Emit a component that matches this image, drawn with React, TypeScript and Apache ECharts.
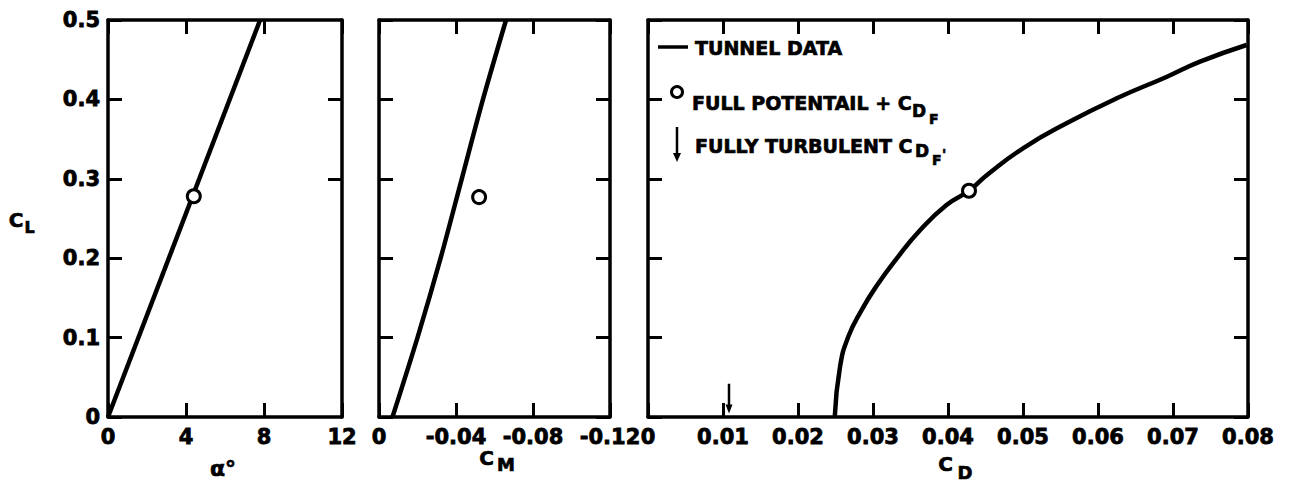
import React, { useEffect, useRef } from "react";
import * as echarts from "echarts";

// Panel 1: C_L vs alpha
const alphaDeg = [0, 7.8];
const clAlpha = [0, 0.5];
const potAlpha = [4.4];
const potClAlpha = [0.278];

// Panel 2: C_L vs C_M
const clLevels = [0, 0.1, 0.2, 0.3, 0.4, 0.5];
const cmTunnel = [-0.007, -0.02, -0.032, -0.043, -0.054, -0.066];
const potCm = [-0.052];
const potClCm = [0.277];

// Panel 3: C_L vs C_D
const cdTunnel = [0.0249, 0.0256, 0.0267, 0.0285, 0.0304, 0.0332, 0.0363, 0.0398, 0.0428, 0.0452, 0.05, 0.0558, 0.0625, 0.0692, 0.0736, 0.0798];
const clDrag = [0, 0.063, 0.101, 0.135, 0.164, 0.2, 0.2355, 0.267, 0.285, 0.3048, 0.3384, 0.3699, 0.4014, 0.4286, 0.4475, 0.4685];
const potCd = [0.0428];
const potClCd = [0.285];
const turbCd = [0.0108, 0.0108];
const turbCl = [0.042, 0.01];

const FONT = "'DejaVu Sans', sans-serif";
const zip = (a: number[], b: number[]) => a.map((v, i) => [v, b[i]]);

function axisBase(extra: any) {
  return {
    type: "value",
    axisLine: { show: true, onZero: false, lineStyle: { color: "#000", width: 3.5 } },
    axisTick: { show: true, inside: true, length: 14, lineStyle: { color: "#000", width: 3 } },
    splitLine: { show: false },
    axisLabel: { show: false },
    ...extra,
  };
}

const labelStyle = (fmt: (v: number) => string, margin: number) => ({
  show: true,
  color: "#000",
  fontFamily: FONT,
  fontWeight: "bold",
  fontSize: 21,
  textBorderColor: "#000",
  textBorderWidth: 0.8,
  margin,
  showMinLabel: true,
  showMaxLabel: true,
  formatter: fmt,
});

const txt = (text: string, x: number, y: number, size: number, align = "center") => ({
  type: "text",
  x,
  y,
  style: {
    text,
    fill: "#000",
    stroke: "#000",
    lineWidth: 0.7,
    fontFamily: FONT,
    fontWeight: "bold",
    fontSize: size,
    align,
    verticalAlign: "middle",
  },
});

export default function App() {
  const ref = useRef<HTMLDivElement>(null);
  useEffect(() => {
    if (!ref.current) return;
    const chart = echarts.init(ref.current, null, { renderer: "svg" });
    const grids = [
      { left: 108, top: 20, width: 234, height: 397 },
      { left: 379, top: 20, width: 231, height: 397 },
      { left: 648, top: 20, width: 600, height: 397 },
    ];
    const fmt1 = (v: number) => (v === 0 ? "0" : String(Math.round(v)));
    const fmt2 = (v: number) => (v === 0 ? "0" : v.toFixed(2));
    const fmtY = (v: number) => (v === 0 ? "0" : v.toFixed(1));
    const xAxes = [
      axisBase({ gridIndex: 0, position: "bottom", min: 0, max: 12, interval: 4, axisLabel: labelStyle(fmt1, 9) }),
      axisBase({ gridIndex: 0, position: "top", min: 0, max: 12, interval: 4 }),
      axisBase({ gridIndex: 1, position: "bottom", min: -0.12, max: 0, interval: 0.04, inverse: true, axisLabel: labelStyle(fmt2, 9) }),
      axisBase({ gridIndex: 1, position: "top", min: -0.12, max: 0, interval: 0.04, inverse: true }),
      axisBase({ gridIndex: 2, position: "bottom", min: 0, max: 0.08, interval: 0.01, axisLabel: labelStyle(fmt2, 9) }),
      axisBase({ gridIndex: 2, position: "top", min: 0, max: 0.08, interval: 0.01 }),
    ];
    const yAxes = [
      axisBase({ gridIndex: 0, position: "left", min: 0, max: 0.5, interval: 0.1, axisLabel: labelStyle(fmtY, 8) }),
      axisBase({
        gridIndex: 0, position: "right", min: 0, max: 0.5, interval: 0.1,
        axisTick: { show: true, inside: true, length: 14, customValues: [0.3, 0.4], lineStyle: { color: "#000", width: 3 } },
      }),
      axisBase({ gridIndex: 1, position: "left", min: 0, max: 0.5, interval: 0.1 }),
      axisBase({ gridIndex: 1, position: "right", min: 0, max: 0.5, interval: 0.1 }),
      axisBase({ gridIndex: 2, position: "left", min: 0, max: 0.5, interval: 0.1 }),
      axisBase({ gridIndex: 2, position: "right", min: 0, max: 0.5, interval: 0.1 }),
    ];
    const lineStyle = { color: "#000", width: 4.5 };
    const circle = {
      symbol: "circle",
      symbolSize: 13,
      itemStyle: { color: "#fff", borderColor: "#000", borderWidth: 3, opacity: 1 },
      z: 5,
    };
    const option: any = {
      animation: false,
      backgroundColor: "#fff",
      grid: grids,
      xAxis: xAxes,
      yAxis: yAxes,
      series: [
        { type: "line", xAxisIndex: 0, yAxisIndex: 0, data: zip(alphaDeg, clAlpha), symbol: "none", lineStyle },
        { type: "scatter", xAxisIndex: 0, yAxisIndex: 0, data: zip(potAlpha, potClAlpha), ...circle },
        { type: "line", xAxisIndex: 2, yAxisIndex: 2, data: zip(cmTunnel, clLevels), symbol: "none", smooth: 0.3, lineStyle },
        { type: "scatter", xAxisIndex: 2, yAxisIndex: 2, data: zip(potCm, potClCm), ...circle },
        { type: "line", xAxisIndex: 4, yAxisIndex: 4, data: zip(cdTunnel, clDrag), symbol: "none", smooth: 0.5, lineStyle },
        { type: "scatter", xAxisIndex: 4, yAxisIndex: 4, data: zip(potCd, potClCd), ...circle },
        {
          type: "line", xAxisIndex: 4, yAxisIndex: 4,
          data: [
            { value: [turbCd[0], turbCl[0]], symbol: "none" },
            { value: [turbCd[1], turbCl[1]], symbol: "triangle", symbolRotate: 180, symbolSize: [7, 9] },
          ],
          lineStyle: { color: "#000", width: 2.5 },
          itemStyle: { color: "#000", opacity: 1 },
        },
      ],
      graphic: [
        txt("C", 16, 220, 20),
        txt("L", 29.5, 227, 16),
        txt("α°", 223, 468, 22),
        txt("C", 486.5, 458, 20),
        txt("M", 506, 464, 18),
        txt("C", 945.5, 464, 20),
        txt("D", 965, 472, 18),
        { type: "line", shape: { x1: 658, y1: 47, x2: 688, y2: 47 }, style: { stroke: "#000", lineWidth: 3.5 } },
        txt("TUNNEL DATA", 695, 47.5, 19, "left"),
        { type: "circle", shape: { cx: 677, cy: 92, r: 5.5 }, style: { fill: "#fff", stroke: "#000", lineWidth: 3 } },
        txt("FULL POTENTAIL + C", 692, 103, 19, "left"),
        txt("D", 912, 111, 17, "left"),
        txt("F", 929, 119, 14, "left"),
        { type: "line", shape: { x1: 677, y1: 127, x2: 677, y2: 155 }, style: { stroke: "#000", lineWidth: 2.5 } },
        { type: "polygon", shape: { points: [[673, 153], [681, 153], [677, 162]] }, style: { fill: "#000" } },
        txt("FULLY TURBULENT C", 695, 146, 19, "left"),
        txt("D", 915, 151, 17, "left"),
        txt("F", 932, 160, 14, "left"),
        txt("'", 942, 154, 14, "left"),
      ],
    };
    chart.setOption(option);
    return () => chart.dispose();
  }, []);
  return (
    <div
      ref={ref}
      style={{ position: "absolute", left: 0, top: 0, width: 1291, height: 486, background: "#fff" }}
    />
  );
}
